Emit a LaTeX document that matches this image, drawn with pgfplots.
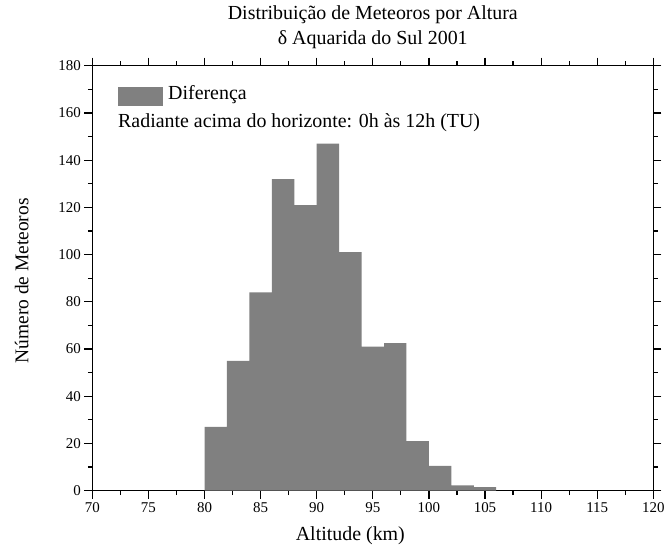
\documentclass[border=0pt]{standalone}
\usepackage{fontspec}
\setmainfont{Liberation Serif}
\usepackage{pgfplots}
\pgfplotsset{compat=1.18}
\definecolor{histgray}{RGB}{128,128,128}

\begin{document}
\begin{tikzpicture}
\useasboundingbox (0,0) rectangle (667bp,548bp);
\begin{axis}[
  at={(92.3bp,57.3bp)}, anchor=south west,
  width=561bp, height=425bp, scale only axis,
  xmin=70, xmax=120, ymin=0, ymax=180,
  xtick={70,75,...,120}, ytick={0,20,...,180},
  minor x tick num=1, minor y tick num=1,
  tick align=outside, tick pos=both,
  xticklabel pos=lower, yticklabel pos=left,
  major tick length=8bp, minor tick length=4.5bp,
  axis line style={line width=1.2bp},
  every tick/.style={black, line width=1.2bp},
  tick label style={font=\fontsize{15}{18}\selectfont},
  /pgf/number format/assume math mode=true,
  title={Distribuição de Meteoros por Altura\\δ Aquarida do Sul 2001},
  title style={align=center, font=\fontsize{20}{26}\selectfont,
    at={(axis description cs:0.5,1)}, anchor=south, inner sep=0pt, yshift=10.3bp},
  xlabel={Altitude (km)},
  xlabel style={font=\fontsize{20}{24}\selectfont,
    at={([yshift=-49.3bp]axis description cs:0.46,0)}, anchor=base, inner sep=0pt},
  ylabel={Número de Meteoros},
  ylabel style={font=\fontsize{19.5}{24}\selectfont,
    at={([xshift=-63.8bp,yshift=-2.7bp]axis description cs:0,0.5)}, anchor=base, inner sep=0pt},
  legend style={at={(axis description cs:0,1)}, anchor=north west,
    xshift=25.7bp, yshift=-20bp, draw=none, fill=none, inner sep=0pt,
    column sep=5bp, font=\fontsize{20}{24}\selectfont,
    nodes={inner sep=0pt}},
  legend cell align=left,
]
% histogram, 2 km bins from 80 km to 106 km (last point closes the interval)
\addplot[ybar interval, fill=histgray, draw=none,
  legend image code/.code={\fill[histgray] (0bp,-12bp) rectangle (45bp,6.6bp);}]
  coordinates {
    (80,27) (82,55) (84,84) (86,132) (88,121) (90,147) (92,101)
    (94,61) (96,62.5) (98,21) (100,10.5) (102,2.3) (104,1.5) (106,0)
  };
\addlegendentry{Diferença}
\node[anchor=base west, inner sep=0pt, font=\fontsize{20}{24}\selectfont]
  at ([xshift=25.7bp,yshift=-61.8bp]axis description cs:0,1)
  {Radiante acima do horizonte: 0h às 12h (TU)};
\end{axis}
\end{tikzpicture}
\end{document}
